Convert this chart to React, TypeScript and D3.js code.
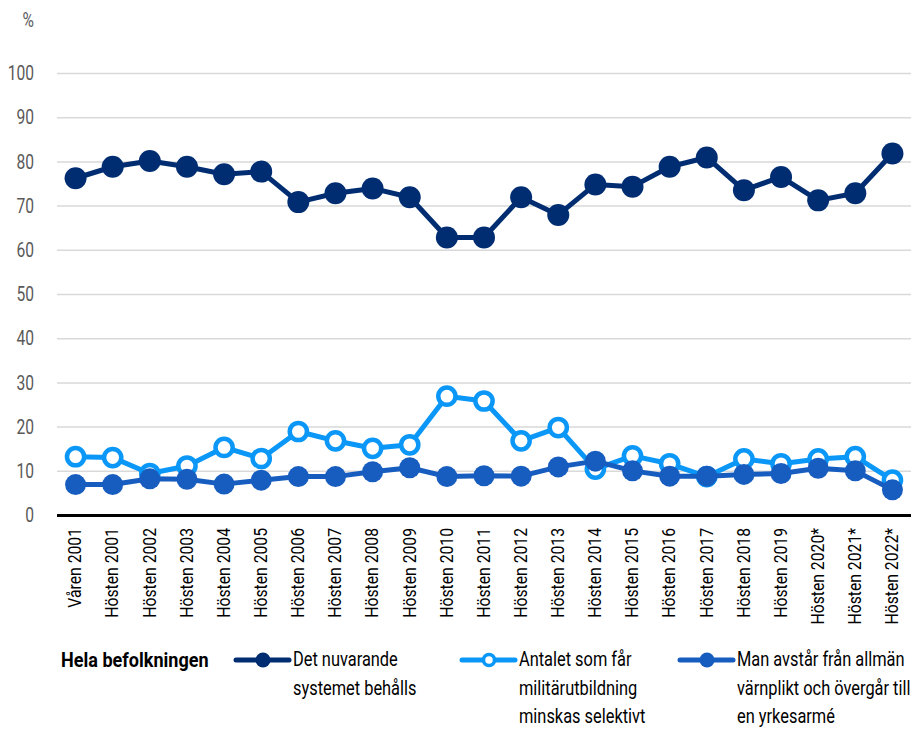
import React from "react";
import * as d3 from "d3";

const categories = [
  "Våren 2001", "Hösten 2001", "Hösten 2002", "Hösten 2003", "Hösten 2004",
  "Hösten 2005", "Hösten 2006", "Hösten 2007", "Hösten 2008", "Hösten 2009",
  "Hösten 2010", "Hösten 2011", "Hösten 2012", "Hösten 2013", "Hösten 2014",
  "Hösten 2015", "Hösten 2016", "Hösten 2017", "Hösten 2018", "Hösten 2019",
  "Hösten 2020*", "Hösten 2021*", "Hösten 2022*",
];

const behalls = [76.3, 78.9, 80.2, 78.9, 77.2, 77.8, 70.9, 72.9, 74.0, 72.0, 62.9, 62.9, 72.0, 68.0, 74.9, 74.4, 78.9, 81.0, 73.6, 76.6, 71.3, 72.9, 81.9];
const selektivt = [13.3, 13.1, 9.5, 11.2, 15.4, 12.9, 19.0, 16.9, 15.2, 16.0, 27.0, 25.9, 16.9, 19.9, 10.5, 13.5, 11.7, 8.8, 12.8, 11.7, 12.8, 13.3, 8.0];
const yrkesarme = [7.0, 7.0, 8.3, 8.2, 7.1, 8.0, 8.8, 8.8, 9.9, 10.8, 8.8, 9.0, 8.9, 11.0, 12.3, 10.1, 8.9, 8.9, 9.3, 9.5, 10.7, 10.1, 5.8];

const yTicks = [0, 10, 20, 30, 40, 50, 60, 70, 80, 90, 100];

const legendTitle = "Hela befolkningen";
const legendLabels = [
  ["Det nuvarande", "systemet behålls"],
  ["Antalet som får", "militärutbildning", "minskas selektivt"],
  ["Man avstår från allmän", "värnplikt och övergår till", "en yrkesarmé"],
];

const NAVY = "#002D72";
const LIGHT = "#0A97F7";
const MID = "#175DC0";
const FONT = "Roboto, 'Noto Sans', sans-serif";

export default function App() {
  const W = 917, H = 729;
  const left = 57, right = 911, top = 73.5, bottom = 515.5;
  const x = d3.scaleBand<string>().domain(categories).range([left, right]);
  const y = d3.scaleLinear().domain([0, 100]).range([bottom, top]);
  const cx = (i: number) => (x(categories[i]) as number) + x.bandwidth() / 2;
  const line = d3.line<number>().x((_, i) => cx(i)).y((v) => y(v));

  const series = [
    { data: behalls, color: NAVY, hollow: false, r: 11 },
    { data: selektivt, color: LIGHT, hollow: true, r: 8.6 },
    { data: yrkesarme, color: MID, hollow: false, r: 10.5 },
  ];

  const legendX = [234, 460, 678];
  const sx = 0.8;

  return (
    <svg width={W} height={H} style={{ position: "absolute", left: 0, top: 0, background: "#fff" }} fontFamily={FONT}>
      {yTicks.filter((t) => t > 0).map((t) => (
        <line key={t} x1={left} x2={right} y1={y(t)} y2={y(t)} stroke="#D9D9D9" strokeWidth={1.5} />
      ))}
      {yTicks.map((t) => (
        <text key={t} transform={`translate(34,${y(t)}) scale(0.8,1)`} textAnchor="end" dominantBaseline="central" fontSize={19.5} fill="#595959">{t}</text>
      ))}
      <text transform="translate(34,20) scale(0.8,1)" textAnchor="end" dominantBaseline="central" fontSize={19.5} fill="#595959">%</text>
      <line x1={left} x2={right} y1={y(0)} y2={y(0)} stroke="#000" strokeWidth={3} />
      {categories.map((c, i) => (
        <text key={c} transform={`translate(${cx(i)},${528}) rotate(-90) scale(0.9,1)`} textAnchor="end" dominantBaseline="central" fontSize={17.5} fill="#000">{c}</text>
      ))}
      {series.map((s, si) => (
        <g key={si}>
          <path d={line(s.data) as string} fill="none" stroke={s.color} strokeWidth={5} strokeLinejoin="round" />
          {s.data.map((v, i) => (
            <circle key={i} cx={cx(i)} cy={y(v)} r={s.r} fill={s.hollow ? "#fff" : s.color} stroke={s.color} strokeWidth={s.hollow ? 4.5 : 0} />
          ))}
        </g>
      ))}
      <text transform={`translate(61,660) scale(0.86,1)`} dominantBaseline="central" fontSize={21} fontWeight="bold" fill="#000">{legendTitle}</text>
      {legendLabels.map((lines, li) => {
        const s = series[li];
        const lx = legendX[li];
        return (
          <g key={li}>
            <line x1={lx + 2} x2={lx + 55} y1={660} y2={660} stroke={s.color} strokeWidth={5} strokeLinecap="round" />
            <circle cx={lx + 29} cy={660} r={s.hollow ? 5.5 : 7.5} fill={s.hollow ? "#fff" : s.color} stroke={s.color} strokeWidth={s.hollow ? 3.5 : 0} />
            {lines.map((t, k) => (
              <text key={k} transform={`translate(${lx + 59},${659.5 + k * 28.5}) scale(${sx},1)`} dominantBaseline="central" fontSize={20.5} fill="#000">{t}</text>
            ))}
          </g>
        );
      })}
    </svg>
  );
}
